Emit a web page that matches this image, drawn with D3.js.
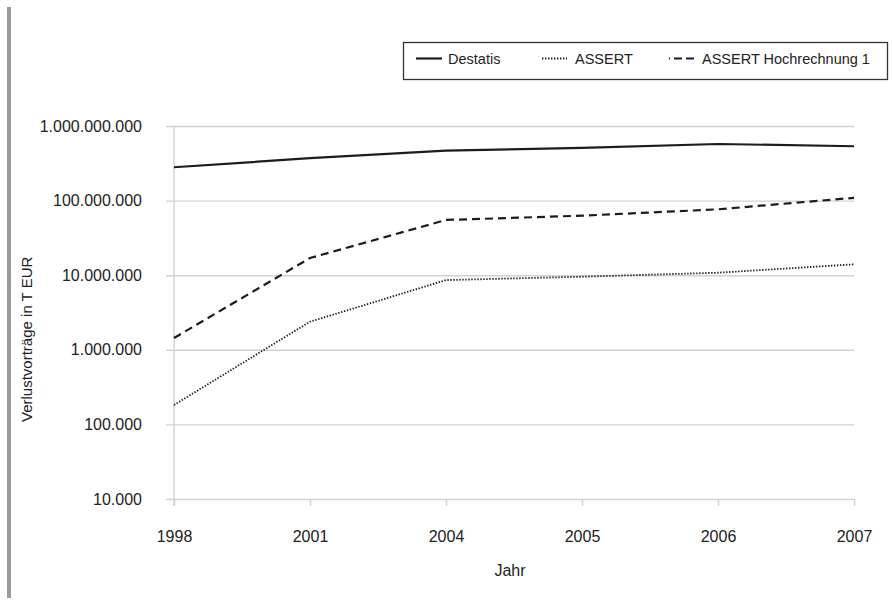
<!DOCTYPE html>
<html>
<head>
<meta charset="utf-8">
<script src="https://cdn.jsdelivr.net/npm/d3@7"></script>
<style>
  html, body { margin: 0; padding: 0; background: #fff; }
  svg { display: block; font-family: "Liberation Sans", Arial, Helvetica, sans-serif; }
</style>
</head>
<body>
<svg id="chart" width="892" height="608"></svg>
<script>
// Jahre (x-Achse) und Verlustvorträge in T EUR je Reihe
const years = ["1998", "2001", "2004", "2005", "2006", "2007"];
const destatis = [2.8e8, 3.7e8, 4.67e8, 5.1e8, 5.74e8, 5.35e8];
const assert = [1.82e5, 2.38e6, 8.6e6, 9.55e6, 1.08e7, 1.4e7];
const assertHochrechnung = [1.44e6, 1.7e7, 5.5e7, 6.28e7, 7.64e7, 1.09e8];
const yTicks = [1e4, 1e5, 1e6, 1e7, 1e8, 1e9];
const seriesNames = ["Destatis", "ASSERT", "ASSERT Hochrechnung 1"];

const svg = d3.select("#chart");
const plotLeft = 174, plotRight = 854, plotTop = 126, plotBottom = 499;

const x = d3.scalePoint().domain(years).range([plotLeft, plotRight]);
const y = d3.scaleLog().domain([1e4, 1e9]).range([plotBottom, plotTop]);

const fmt = v => d3.format(",")(v).replace(/,/g, ".");

// grauer Randstreifen links
svg.append("rect").attr("x", 7).attr("y", 7).attr("width", 4).attr("height", 591).attr("fill", "#9a9a9a");

// y-Achse mit Gitterlinien
const yAxis = svg.append("g")
  .attr("transform", `translate(${plotLeft},0)`)
  .call(d3.axisLeft(y).tickValues(yTicks).tickFormat(fmt).tickSize(-(plotRight - plotLeft)).tickPadding(0));
yAxis.select(".domain").remove();
yAxis.selectAll(".tick line")
  .attr("x1", -8)
  .attr("stroke", "#d2d2d2").attr("stroke-width", 1.4);
yAxis.selectAll(".tick text")
  .attr("x", 142 - plotLeft)
  .attr("font-size", 16).attr("fill", "#222");

// x-Achse
const xAxis = svg.append("g")
  .attr("transform", `translate(0,${plotBottom})`)
  .call(d3.axisBottom(x).tickSize(7).tickPadding(0));
xAxis.select(".domain").remove();
xAxis.selectAll(".tick line").attr("stroke", "#d2d2d2").attr("stroke-width", 1.4);
xAxis.selectAll(".tick text")
  .attr("y", 43).attr("dy", 0)
  .attr("font-size", 16).attr("fill", "#222");

// linke Achsenlinie
svg.append("line")
  .attr("x1", plotLeft).attr("x2", plotLeft).attr("y1", plotTop).attr("y2", plotBottom + 7)
  .attr("stroke", "#d2d2d2").attr("stroke-width", 1.4);

// Achsentitel
svg.append("text")
  .attr("x", 510).attr("y", 576)
  .attr("text-anchor", "middle").attr("font-size", 16).attr("fill", "#222")
  .text("Jahr");
svg.append("text")
  .attr("transform", "translate(32,422) rotate(-90)")
  .attr("text-anchor", "start").attr("font-size", 15).attr("fill", "#222")
  .text("Verlustvorträge in T EUR");

// Linien
const styles = [
  { data: destatis, dash: null, width: 2.2 },
  { data: assert, dash: "1.4,1.6", width: 1.8 },
  { data: assertHochrechnung, dash: "8,5", width: 2.2 }
];
const line = d3.line().x((d, i) => x(years[i])).y(d => y(d));
styles.forEach(s => {
  svg.append("path")
    .attr("d", line(s.data))
    .attr("fill", "none")
    .attr("stroke", "#1c1c1c")
    .attr("stroke-width", s.width)
    .attr("stroke-dasharray", s.dash);
});

// Legende
svg.append("rect")
  .attr("x", 403.5).attr("y", 42.5).attr("width", 484).attr("height", 37)
  .attr("fill", "#fff").attr("stroke", "#333").attr("stroke-width", 1.3);
const legendPos = [
  { x1: 416, x2: 442, tx: 448 },
  { x1: 542, x2: 567, tx: 575 },
  { x1: 669, x2: 695, tx: 702 }
];
seriesNames.forEach((name, i) => {
  const p = legendPos[i];
  svg.append("line")
    .attr("x1", p.x1).attr("x2", p.x2).attr("y1", 58.5).attr("y2", 58.5)
    .attr("stroke", "#1c1c1c")
    .attr("stroke-width", styles[i].width)
    .attr("stroke-dasharray", i === 2 ? "1,4,8,4,8" : styles[i].dash);
  svg.append("text")
    .attr("x", p.tx).attr("y", 63.5)
    .attr("font-size", 14.5).attr("fill", "#222")
    .text(name);
});
</script>
</body>
</html>
